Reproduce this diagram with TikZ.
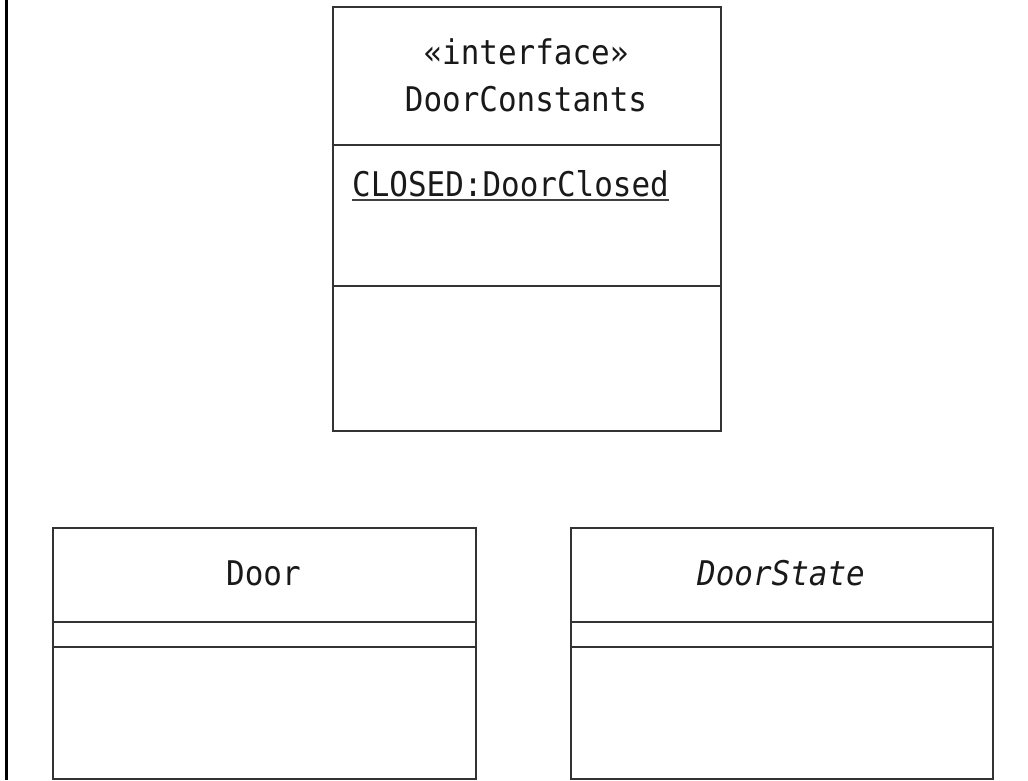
\documentclass[tikz,border=0pt]{standalone}
\usepackage{fontspec}
\newfontfamily\umlfont[FakeStretch=0.91]{DejaVu Sans Mono}
\begin{document}
\begin{tikzpicture}[x=1pt,y=-1pt,
  classbox/.style={draw=black!80, line width=1.5pt, rectangle, inner sep=0pt, anchor=north west},
  sepline/.style={draw=black!80, line width=1.5pt},
  umltext/.style={inner sep=0pt, text=black!90, font=\umlfont\fontsize{34}{40}\selectfont},
  frameline/.style={draw=black, line width=3pt}]
\useasboundingbox (0,0) rectangle (1028,780);
% left frame line
\coordinate (ft) at (6,0);
\coordinate (fb) at (6,780);
\draw[frameline] (ft) -- (fb);
% DoorConstants
\node[classbox, minimum width=388pt, minimum height=424pt] (dc) at (332,6) {};
\draw[sepline] (dc.west |- 0,145) -- (dc.east |- 0,145);
\draw[sepline] (dc.west |- 0,286) -- (dc.east |- 0,286);
\node[umltext, anchor=base] (st) at (526,64) {«interface»};
\node[umltext, anchor=base] (dcn) at (526,111) {DoorConstants};
\node[umltext, anchor=base west] (cl) at (352,196) {CLOSED:DoorClosed};
\draw[line width=1.8pt, black!75] ([yshift=-4pt]cl.base west) -- ([yshift=-4pt]cl.base east);
% Door
\node[classbox, minimum width=423pt, minimum height=251pt] (door) at (52,527) {};
\draw[sepline] (door.west |- 0,622) -- (door.east |- 0,622);
\draw[sepline] (door.west |- 0,647) -- (door.east |- 0,647);
\node[umltext, anchor=base] (doorn) at (263.5,585) {Door};
% DoorState
\node[classbox, minimum width=422pt, minimum height=251pt] (ds) at (570,527) {};
\draw[sepline] (ds.west |- 0,622) -- (ds.east |- 0,622);
\draw[sepline] (ds.west |- 0,647) -- (ds.east |- 0,647);
\node[umltext, anchor=base] (dsn) at (781,585) {\itshape DoorState};
\end{tikzpicture}
\end{document}
